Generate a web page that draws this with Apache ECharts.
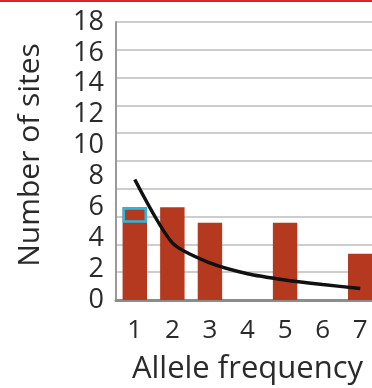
<!DOCTYPE html>
<html>
<head>
<meta charset="utf-8">
<style>
  html, body { margin: 0; padding: 0; background: #ffffff; }
  #chart { width: 372px; height: 388px; position: relative; }
  #topRule { position: absolute; left: 0; top: 0; width: 372px; height: 2px; background: #d7232b; z-index: 5; }
</style>
<script src="https://cdn.jsdelivr.net/npm/echarts@6/dist/echarts.min.js"></script>
</head>
<body>
<div id="chart"></div>
<div id="topRule"></div>
<script>
// Site frequency spectrum: observed counts per allele frequency class,
// with the expected neutral curve drawn over them.
const frequencies = ['1', '2', '3', '4', '5', '6', '7'];
const observedSites = [6, 6, 5, 0, 5, 0, 3];
const expectedSites = [7.8, 3.7, 2.4, 1.7, 1.3, 1.0, 0.75];
// Highlighted slice of the first bar (from 5 up to 6 sites)
const highlightBase = [5, '-', '-', '-', '-', '-', '-'];
const highlightSpan = [1, '-', '-', '-', '-', '-', '-'];

const FONT = 'Open Sans';
const TEXT = '#2a2a2a';

const chart = echarts.init(document.getElementById('chart'), null, { renderer: 'canvas' });

chart.setOption({
  animation: false,
  grid: {
    left: 116, width: 263, top: 22, height: 278,
    containLabel: false,
    outerBoundsMode: 'none'
  },
  xAxis: {
    type: 'category',
    data: frequencies,
    name: 'Allele frequency',
    nameLocation: 'middle',
    nameGap: 54,
    nameTextStyle: { fontFamily: FONT, fontSize: 31, color: TEXT },
    axisLine: { lineStyle: { color: '#8c8c8c', width: 3 } },
    axisTick: { show: false },
    axisLabel: { fontFamily: FONT, fontSize: 26, color: TEXT, margin: 18 },
    splitLine: { show: false }
  },
  yAxis: [
    {
      type: 'value',
      min: 0,
      max: 18,
      interval: 2,
      name: 'Number of sites',
      nameLocation: 'middle',
      nameGap: 71,
      nameTextStyle: { fontFamily: FONT, fontSize: 30, color: TEXT, padding: [0, 0, 0, 12] },
      axisLine: { show: true, lineStyle: { color: '#9a9a9a', width: 2 } },
      axisTick: { show: false },
      axisLabel: { fontFamily: FONT, fontSize: 27, color: TEXT, margin: 12 },
      splitLine: { show: false }
    },
    {
      // background rules
      type: 'value',
      min: 0,
      max: 10,
      interval: 1,
      position: 'left',
      axisLine: { show: false },
      axisTick: { show: false },
      axisLabel: { show: false },
      splitLine: { show: true, lineStyle: { color: '#bdbdbd', width: 1.5 } }
    }
  ],
  series: [
    {
      name: 'Observed',
      type: 'bar',
      yAxisIndex: 0,
      data: observedSites,
      barWidth: '65%',
      barGap: '-100%',
      itemStyle: { color: '#b5391f' },
      z: 2
    },
    {
      name: 'HighlightBase',
      type: 'bar',
      yAxisIndex: 0,
      stack: 'hl',
      data: highlightBase,
      barWidth: '65%',
      itemStyle: { color: 'rgba(0,0,0,0)' },
      silent: true,
      z: 3
    },
    {
      name: 'Highlight',
      type: 'bar',
      yAxisIndex: 0,
      stack: 'hl',
      data: highlightSpan,
      barWidth: '65%',
      itemStyle: { color: 'rgba(0,0,0,0)', borderColor: '#2bb8e0', borderWidth: 2.5 },
      silent: true,
      z: 3
    },
    {
      name: 'Expected',
      type: 'line',
      yAxisIndex: 0,
      data: expectedSites,
      smooth: 0.25,
      symbol: 'none',
      lineStyle: { color: '#111111', width: 3.5 },
      z: 4
    }
  ]
});
</script>
</body>
</html>
